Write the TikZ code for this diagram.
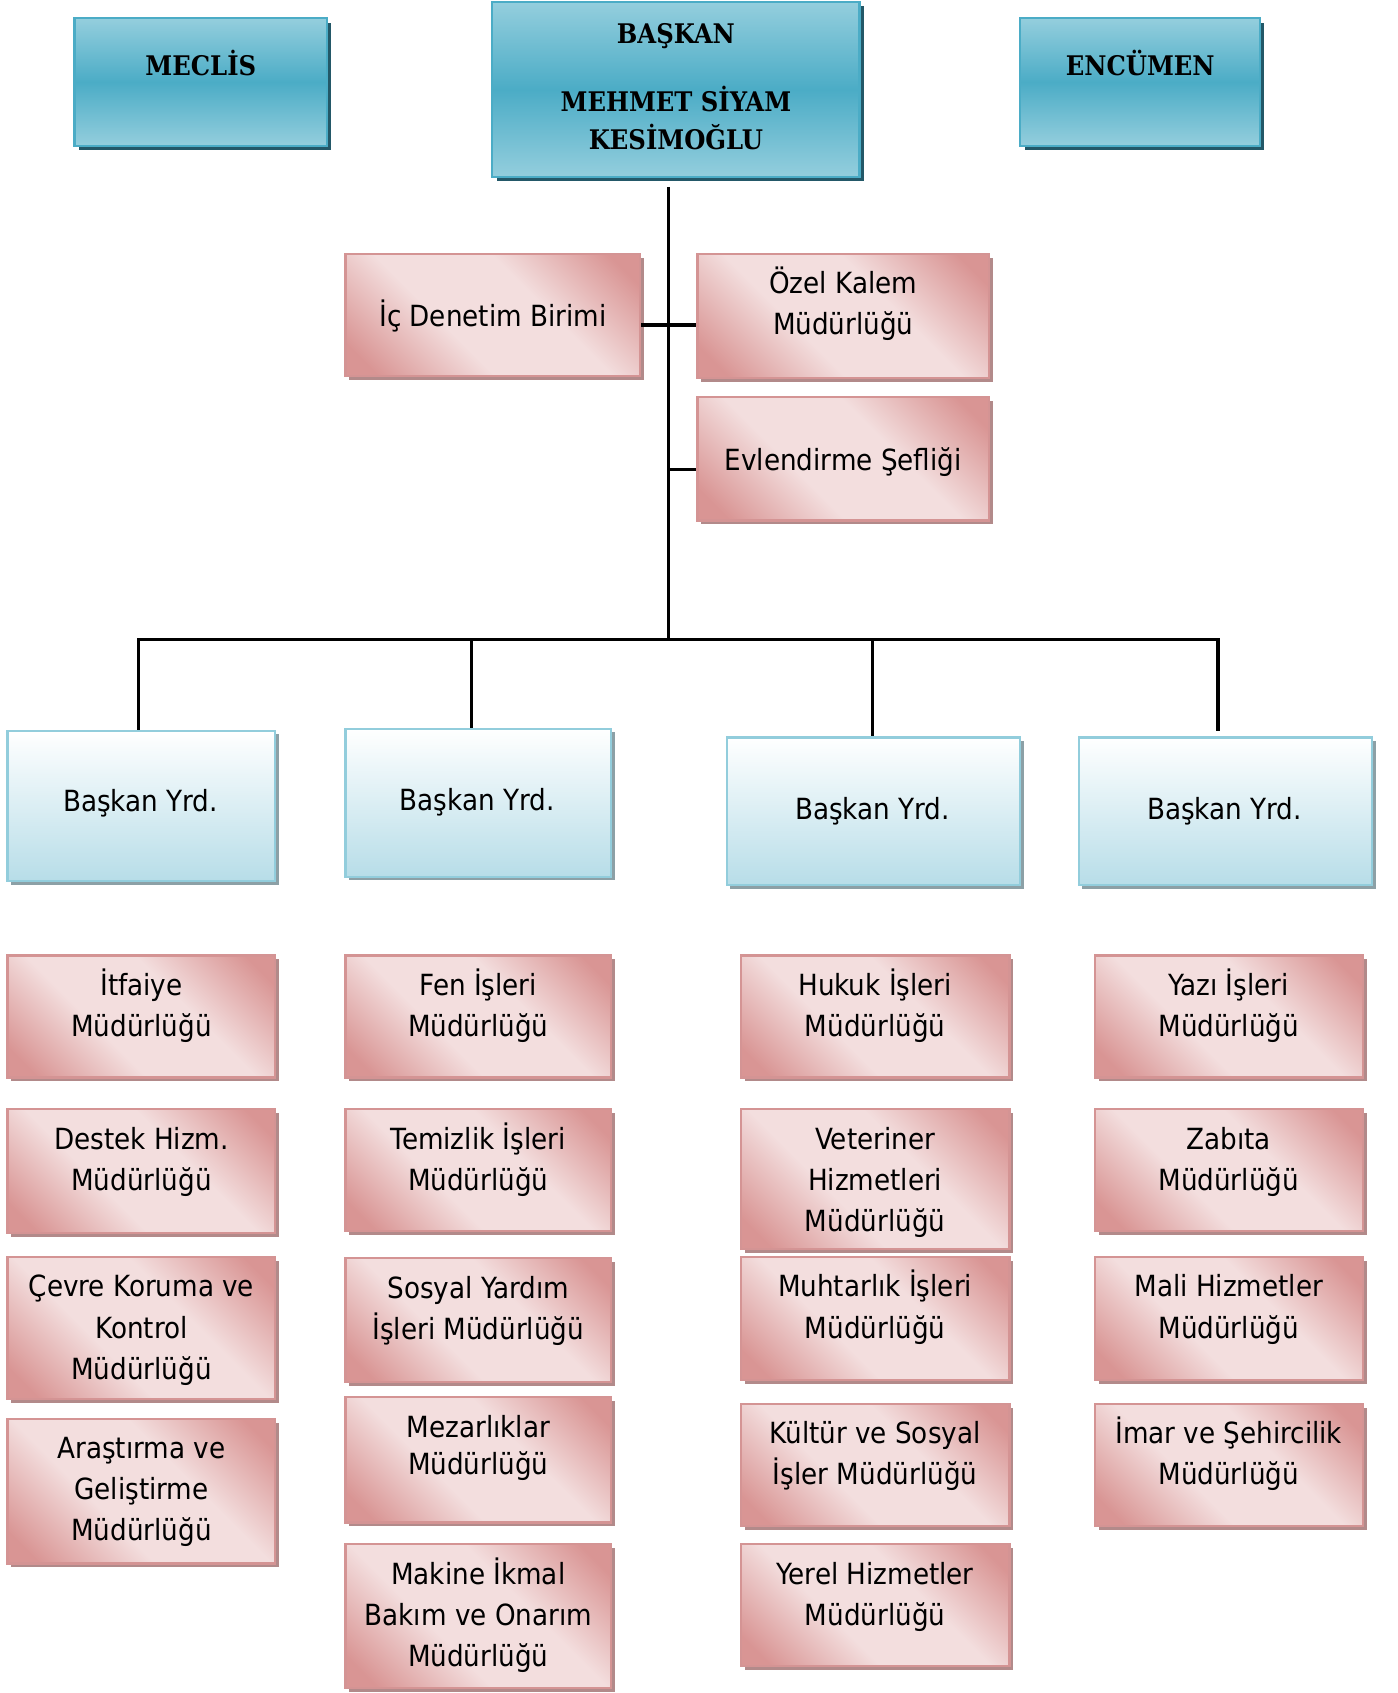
\documentclass[tikz,border=0pt]{standalone}
\usepackage{fontspec}
\setmainfont{DejaVu Sans Condensed}
\newfontfamily\hfont{DejaVu Serif Condensed}
\usetikzlibrary{shadows}

\definecolor{pdark}{RGB}{217,149,148}
\definecolor{plight}{RGB}{243,222,222}
\definecolor{pborder}{RGB}{212,148,148}
\definecolor{pshadow}{RGB}{178,138,138}
\definecolor{bdark}{RGB}{75,172,198}
\definecolor{blight}{RGB}{148,206,221}
\definecolor{bborder}{RGB}{75,172,198}
\definecolor{bshadow}{RGB}{35,88,104}
\definecolor{ylight}{RGB}{183,221,232}
\definecolor{yborder}{RGB}{146,205,220}
\definecolor{yshadow}{RGB}{140,160,166}

\pgfdeclarehorizontalshading{pinkdiag}{100bp}{color(0bp)=(pdark); color(20bp)=(pdark); color(40bp)=(plight); color(60bp)=(plight); color(80bp)=(pdark); color(100bp)=(pdark)}
\pgfdeclareverticalshading{bluev}{100bp}{color(0bp)=(blight); color(25bp)=(blight); color(50bp)=(bdark); color(75bp)=(blight); color(100bp)=(blight)}
\pgfdeclareverticalshading{yrdv}{100bp}{color(0bp)=(ylight); color(25bp)=(ylight); color(75bp)=(white); color(100bp)=(white)}

\tikzset{
  pinkbox/.style={draw=pborder, line width=1pt, shading=pinkdiag, shading angle=45, inner sep=0,
    drop shadow={shadow xshift=1.8pt, shadow yshift=-1.8pt, fill=pshadow, opacity=1}},
  bluebox/.style={draw=bborder, line width=1pt, shading=bluev, inner sep=0,
    drop shadow={shadow xshift=2pt, shadow yshift=-2pt, fill=bshadow, opacity=1}},
  yrdbox/.style={draw=yborder, line width=1pt, shading=yrdv, inner sep=0,
    drop shadow={shadow xshift=1.6pt, shadow yshift=-1.6pt, fill=yshadow, opacity=1}},
  ptext/.style={font=\fontsize{13.5}{19}\selectfont, align=center, inner sep=0},
  htext/.style={font=\hfont\bfseries\fontsize{12.5}{18}\selectfont, align=center, inner sep=0},
  conn/.style={line width=1.5pt, black, line join=miter}
}

% name, x1, y1, x2, y2 (pixels), style
\newcommand\mkbox[6]{%
  \node[#6, minimum width={(#4-#2)*0.5pt}, minimum height={(#5-#3)*0.5pt}] (#1) at ({(#2+#4)/2},{(#3+#5)/2}) {};}
% pink box with top-aligned text
\newcommand\pbox[6]{%
  \mkbox{#1}{#2}{#3}{#4}{#5}{pinkbox}
  \node[ptext, anchor=north, yshift=-3.9pt] (#1-t) at (#1.north) {\rule{0pt}{15pt}#6};}
% pink box with centred single line
\newcommand\pboxc[7]{%
  \mkbox{#1}{#2}{#3}{#4}{#5}{pinkbox}
  \node[ptext, anchor=base] (#1-t) at ({(#2+#4)/2},#6) {#7};}

\begin{document}
\begin{tikzpicture}[x=0.5pt, y=-0.5pt]
\useasboundingbox (0,0) rectangle (1294,1568);

% ---- top blue boxes
\mkbox{mec}{69}{17}{303}{135}{bluebox}
\node[htext, anchor=base] (mec-t) at (186,70) {MECLİS};
\mkbox{bas}{456}{2}{796}{164}{bluebox}
\node[htext, anchor=north] (bas-t) at (626,7.5) {\rule{0pt}{16pt}BAŞKAN\\[13.5pt]MEHMET SİYAM\\KESİMOĞLU};
\mkbox{enc}{945}{17}{1167}{135}{bluebox}
\node[htext, anchor=base] (enc-t) at (1056,70) {ENCÜMEN};

% ---- staff units
\pboxc{icd}{320}{235}{593}{348}{302}{İç Denetim Birimi}
\pbox{ozel}{646}{235}{916}{350}{Özel Kalem\\Müdürlüğü}
\pboxc{evl}{646}{368}{916}{482}{436}{Evlendirme Şefliği}

% ---- connectors
\coordinate (sT) at (619,173);
\coordinate (sB) at (619,592);
\coordinate (j1) at (619,301);
\coordinate (j2) at (619,435);
\coordinate (bL) at (128,592);
\coordinate (b2) at (437,592);
\coordinate (b3) at (808,592);
\coordinate (bR) at (1128,592);

% ---- deputy mayors
\mkbox{y1}{7}{677}{255}{816}{yrdbox}
\node[ptext, anchor=base] (y1-t) at (130,752) {Başkan Yrd.};
\mkbox{y2}{320}{675}{566}{812}{yrdbox}
\node[ptext, anchor=base] (y2-t) at (442,751) {Başkan Yrd.};
\mkbox{y3}{673}{683}{945}{820}{yrdbox}
\node[ptext, anchor=base] (y3-t) at (808,759) {Başkan Yrd.};
\mkbox{y4}{999}{683}{1271}{820}{yrdbox}
\node[ptext, anchor=base] (y4-t) at (1134,759) {Başkan Yrd.};

\draw[conn] (sT) -- (sB);
\draw[conn] (icd.east |- j1) -- (ozel.west |- j1);
\draw[conn] (j2) -- (evl.west |- j2);
\draw[conn] (bL |- y1.north) -- (bL) -- (bR) -- ([yshift=2.5pt]bR |- y4.north);
\draw[conn] (b2) -- (b2 |- y2.north);
\draw[conn] (b3) -- (b3 |- y3.north);

% ---- column 1
\pbox{itf}{7}{885}{255}{998}{İtfaiye\\Müdürlüğü}
\pbox{des}{7}{1027}{255}{1142}{Destek Hizm.\\Müdürlüğü}
\pbox{cev}{7}{1164}{255}{1296}{Çevre Koruma ve\\Kontrol\\Müdürlüğü}
\pbox{ara}{7}{1314}{255}{1448}{Araştırma ve\\Geliştirme\\Müdürlüğü}

% ---- column 2
\pbox{fen}{320}{885}{566}{998}{Fen İşleri\\Müdürlüğü}
\pbox{tem}{320}{1027}{566}{1140}{Temizlik İşleri\\Müdürlüğü}
\pbox{sos}{320}{1165}{566}{1280}{Sosyal Yardım\\İşleri Müdürlüğü}
\pbox{mez}{320}{1294}{566}{1410}{Mezarlıklar\\[-2pt]Müdürlüğü}
\pbox{mak}{320}{1430}{566}{1563}{Makine İkmal\\Bakım ve Onarım\\Müdürlüğü}

% ---- column 3
\pbox{huk}{686}{885}{935}{998}{Hukuk İşleri\\Müdürlüğü}
\pbox{vet}{686}{1027}{935}{1157}{Veteriner\\Hizmetleri\\Müdürlüğü}
\pbox{muh}{686}{1164}{935}{1278}{Muhtarlık İşleri\\Müdürlüğü}
\pbox{kul}{686}{1300}{935}{1413}{Kültür ve Sosyal\\İşler Müdürlüğü}
\pbox{yer}{686}{1430}{935}{1543}{Yerel Hizmetler\\Müdürlüğü}

% ---- column 4
\pbox{yaz}{1014}{885}{1262}{998}{Yazı İşleri\\Müdürlüğü}
\pbox{zab}{1014}{1027}{1262}{1140}{Zabıta\\Müdürlüğü}
\pbox{mal}{1014}{1164}{1262}{1278}{Mali Hizmetler\\Müdürlüğü}
\pbox{ima}{1014}{1300}{1262}{1413}{İmar ve Şehircilik\\Müdürlüğü}
\end{tikzpicture}
\end{document}
